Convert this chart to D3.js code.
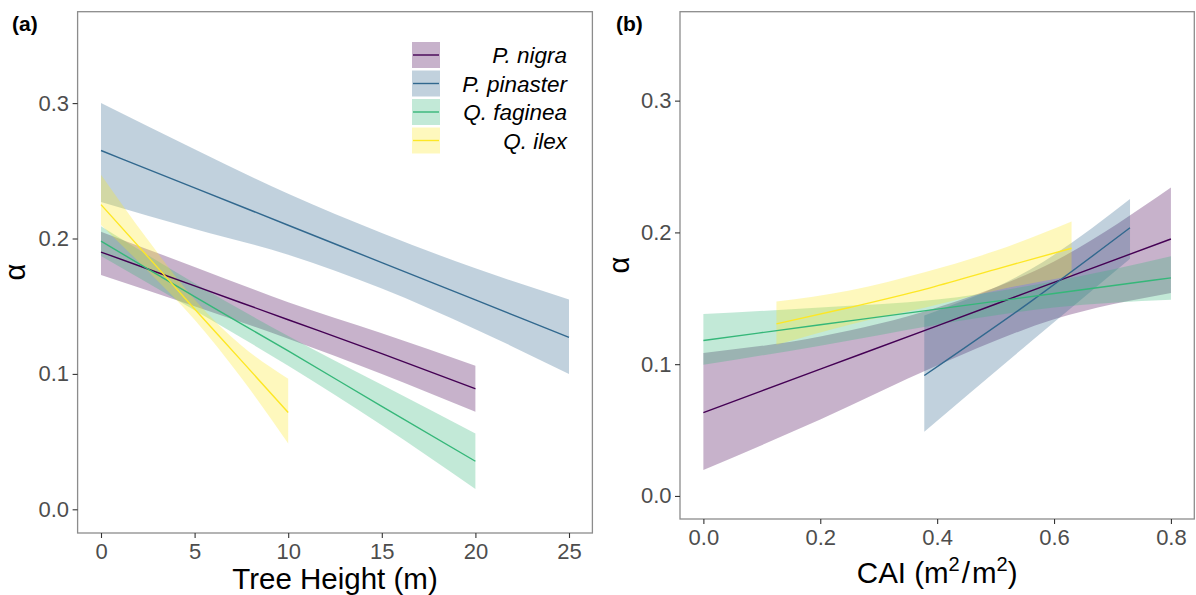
<!DOCTYPE html>
<html>
<head>
<meta charset="utf-8">
<script src="https://cdn.jsdelivr.net/npm/d3@7"></script>
<style>
body { margin: 0; background: #fff; }
svg { font-family: "Liberation Sans", Arial, sans-serif; }
</style>
</head>
<body>
<script>
// species + viridis colours
var species = ["P. nigra", "P. pinaster", "Q. faginea", "Q. ilex"];
var colours = ["#440154", "#31688E", "#35B779", "#FDE725"];

// (a) alpha vs tree height : fitted line + ribbon (lo / hi)
var nigraHx   = [0, 5, 10, 15, 20];
var nigraHfit = [0.190, 0.165, 0.140, 0.115, 0.089];
var nigraHlo  = [0.173, 0.150, 0.126, 0.100, 0.072];
var nigraHhi  = [0.205, 0.179, 0.153, 0.130, 0.106];

var pinasHx   = [0, 5, 10, 15, 20, 25];
var pinasHfit = [0.265, 0.2374, 0.2098, 0.1822, 0.1546, 0.127];
var pinasHlo  = [0.227, 0.207, 0.188, 0.163, 0.133, 0.100];
var pinasHhi  = [0.300, 0.266, 0.233, 0.204, 0.178, 0.155];

var fagHx   = [0, 5, 10, 15, 20];
var fagHfit = [0.198, 0.157, 0.117, 0.076, 0.0355];
var fagHlo  = [0.187, 0.147, 0.106, 0.062, 0.015];
var fagHhi  = [0.209, 0.167, 0.128, 0.092, 0.056];

var ilexHx   = [0, 2.5, 5, 7.5, 10];
var ilexHfit = [0.225, 0.1866, 0.148, 0.1098, 0.0715];
var ilexHlo  = [0.210, 0.176, 0.140, 0.097, 0.0486];
var ilexHhi  = [0.247, 0.199, 0.155, 0.121, 0.0965];

// (b) alpha vs CAI
var nigraCx   = [0, 0.2, 0.4, 0.6, 0.8];
var nigraCfit = [0.0633, 0.0962, 0.1291, 0.1621, 0.195];
var nigraClo  = [0.0197, 0.058, 0.099, 0.134, 0.154];
var nigraChi  = [0.1085, 0.121, 0.143, 0.178, 0.234];

var pinasCx   = [0.378, 0.56, 0.73];
var pinasCfit = [0.0914, 0.1475, 0.2035];
var pinasClo  = [0.0488, 0.117, 0.180];
var pinasChi  = [0.137, 0.172, 0.2253];

var fagCx   = [0, 0.2, 0.4, 0.6, 0.8];
var fagCfit = [0.118, 0.1299, 0.1418, 0.1536, 0.1655];
var fagClo  = [0.0995, 0.114, 0.130, 0.143, 0.1488];
var fagChi  = [0.138, 0.143, 0.149, 0.163, 0.182];

var ilexCx   = [0.125, 0.25, 0.38, 0.5, 0.63];
var ilexCfit = [0.1306, 0.143, 0.157, 0.172, 0.188];
var ilexClo  = [0.1147, 0.130, 0.143, 0.156, 0.167];
var ilexChi  = [0.1475, 0.156, 0.170, 0.186, 0.2083];

var yTicks = [0, 0.1, 0.2, 0.3];
var heightTicks = [0, 5, 10, 15, 20, 25];
var caiTicks = [0, 0.2, 0.4, 0.6, 0.8];

function toRows(x, fit, lo, hi) {
  return x.map(function(d, i) { return {x: d, fit: fit[i], lo: lo[i], hi: hi[i]}; });
}

var panelA = [
  toRows(nigraHx, nigraHfit, nigraHlo, nigraHhi),
  toRows(pinasHx, pinasHfit, pinasHlo, pinasHhi),
  toRows(fagHx, fagHfit, fagHlo, fagHhi),
  toRows(ilexHx, ilexHfit, ilexHlo, ilexHhi)
];
var panelB = [
  toRows(nigraCx, nigraCfit, nigraClo, nigraChi),
  toRows(pinasCx, pinasCfit, pinasClo, pinasChi),
  toRows(fagCx, fagCfit, fagClo, fagChi),
  toRows(ilexCx, ilexCfit, ilexClo, ilexChi)
];

var svg = d3.select("body").append("svg").attr("width", 1196).attr("height", 595);

function drawPanel(data, xDomain, box, xTicks, xFmt) {
  var x = d3.scaleLinear().domain(xDomain).range([box.left, box.right]);
  var y = d3.scaleLinear().domain([-0.0175, 0.3675]).range([box.bottom, box.top]);
  var g = svg.append("g");

  var area = d3.area()
    .curve(d3.curveMonotoneX)
    .x(function(d) { return x(d.x); })
    .y0(function(d) { return y(d.lo); })
    .y1(function(d) { return y(d.hi); });
  var line = d3.line()
    .curve(d3.curveMonotoneX)
    .x(function(d) { return x(d.x); })
    .y(function(d) { return y(d.fit); });

  // ribbons first, then lines on top (like ggplot layers)
  g.selectAll("path.band").data(data).enter().append("path")
    .attr("class", "band")
    .attr("d", area)
    .attr("fill", function(d, i) { return colours[i]; })
    .attr("fill-opacity", 0.3);
  g.selectAll("path.fit").data(data).enter().append("path")
    .attr("class", "fit")
    .attr("d", line)
    .attr("fill", "none")
    .attr("stroke", function(d, i) { return colours[i]; })
    .attr("stroke-width", 1.4);

  // border
  g.append("rect")
    .attr("x", box.left).attr("y", box.top)
    .attr("width", box.right - box.left).attr("height", box.bottom - box.top)
    .attr("fill", "none").attr("stroke", "#8c8c8c").attr("stroke-width", 1.3);

  var ya = g.append("g").attr("transform", "translate(" + box.left + ",0)")
    .call(d3.axisLeft(y).tickValues(yTicks).tickFormat(d3.format(".1f")).tickSize(5).tickPadding(3.5));
  var xa = g.append("g").attr("transform", "translate(0," + box.bottom + ")")
    .call(d3.axisBottom(x).tickValues(xTicks).tickFormat(xFmt).tickSize(5).tickPadding(5));
  [ya, xa].forEach(function(a) {
    a.select(".domain").remove();
    a.selectAll(".tick line").attr("stroke", "#333").attr("stroke-width", 1.1);
    a.selectAll(".tick text").attr("fill", "#4d4d4d").style("font-size", "22px")
      .style("font-family", "'Liberation Sans', Arial, sans-serif");
  });
  return g;
}

var boxA = {left: 77.6, right: 592.4, top: 11.7, bottom: 533};
var boxB = {left: 680, right: 1194.3, top: 11.7, bottom: 519};

drawPanel(panelA, [-1.25, 26.25], boxA, heightTicks, d3.format("d"));
drawPanel(panelB, [-0.04, 0.84], boxB, caiTicks, d3.format(".1f"));

// panel tags
svg.append("text").attr("x", 12).attr("y", 31).text("(a)")
  .style("font-size", "21px").style("font-weight", "bold");
svg.append("text").attr("x", 616).attr("y", 31).text("(b)")
  .style("font-size", "21px").style("font-weight", "bold");

// y titles
svg.append("text").attr("transform", "translate(25,272) rotate(-90)")
  .attr("text-anchor", "middle").style("font-size", "29px").text("α");
svg.append("text").attr("transform", "translate(629,265) rotate(-90)")
  .attr("text-anchor", "middle").style("font-size", "29px").text("α");

// x titles
svg.append("text").attr("x", (boxA.left + boxA.right) / 2).attr("y", 589)
  .attr("text-anchor", "middle").style("font-size", "29.5px").text("Tree Height (m)");

var cai = svg.append("text").attr("x", (boxB.left + boxB.right) / 2).attr("y", 583)
  .attr("text-anchor", "middle").style("font-size", "29.5px");
cai.append("tspan").text("CAI (m");
cai.append("tspan").attr("dy", -12).style("font-size", "20px").text("2");
cai.append("tspan").attr("dy", 12).attr("dx", 2).text("/");
cai.append("tspan").attr("dx", 2).text("m");
cai.append("tspan").attr("dy", -12).style("font-size", "20px").text("2");
cai.append("tspan").attr("dy", 12).text(")");

// legend (inside panel a)
var leg = svg.append("g");
var legRows = leg.selectAll("g").data(species).enter().append("g")
  .attr("transform", function(d, i) { return "translate(0," + (55 + i * 28.5) + ")"; });
legRows.append("rect")
  .attr("x", 412).attr("y", -13).attr("width", 28).attr("height", 26)
  .attr("fill", function(d, i) { return colours[i]; }).attr("fill-opacity", 0.3);
legRows.append("line")
  .attr("x1", 413).attr("x2", 439).attr("y1", 0).attr("y2", 0)
  .attr("stroke", function(d, i) { return colours[i]; }).attr("stroke-width", 1.4);
legRows.append("text")
  .attr("x", 567).attr("y", 8).attr("text-anchor", "end")
  .style("font-size", "22.5px").style("font-style", "italic")
  .text(function(d) { return d; });
</script>
</body>
</html>
